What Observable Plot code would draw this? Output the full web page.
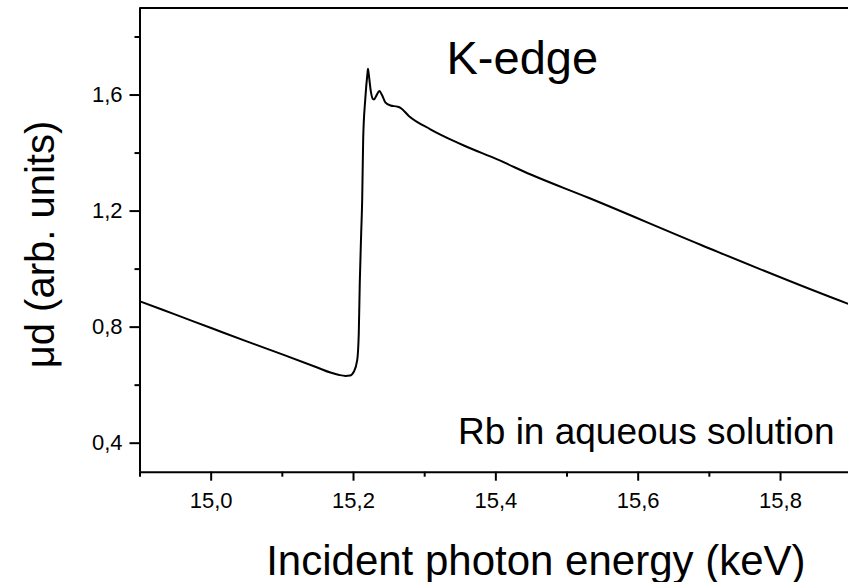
<!DOCTYPE html>
<html>
<head>
<meta charset="utf-8">
<script src="https://cdn.jsdelivr.net/npm/d3@7"></script>
<script src="https://cdn.jsdelivr.net/npm/@observablehq/plot@0.6"></script>
<style>
  html, body { margin: 0; padding: 0; background: #fff; }
</style>
</head>
<body>
<div id="chart"></div>
<script>
// Energy (keV) and absorption μd (arb. units)
const energy = [
  14.9, 14.95, 15.0, 15.05, 15.1, 15.15, 15.1676, 15.18, 15.1887, 15.195,
  15.2004, 15.2052, 15.2074, 15.2088, 15.2108, 15.2122, 15.2136, 15.2165,
  15.2198, 15.2203, 15.2215, 15.2245, 15.2275, 15.229, 15.2315, 15.2365,
  15.240, 15.245, 15.252, 15.2614, 15.266, 15.2777, 15.308, 15.346, 15.355,
  15.402, 15.449, 15.531, 15.6876, 15.8956, 15.9
];
const mu = [
  0.889, 0.843, 0.797, 0.751, 0.706, 0.660, 0.6435, 0.635, 0.632, 0.633,
  0.646, 0.686, 0.779, 0.952, 1.125, 1.239, 1.449, 1.585,
  1.680, 1.691, 1.670, 1.610, 1.586, 1.585, 1.595, 1.614,
  1.600, 1.574, 1.564, 1.560, 1.556, 1.528, 1.482, 1.436, 1.426,
  1.378, 1.326, 1.245, 1.084, 0.880, 0.876
];
const xMajorTicks = [15.0, 15.2, 15.4, 15.6, 15.8];
const xMinorTicks = [14.9, 15.1, 15.3, 15.5, 15.7];
const yMajorTicks = [0.4, 0.8, 1.2, 1.6];
const yMinorTicks = [0.6, 1.0, 1.4, 1.8];
const xDomain = [14.9, 15.9];
const yDomain = [0.3, 1.9];
const xLabel = "Incident photon energy (keV)";
const yLabel = "μd (arb. units)";
const edgeLabel = "K-edge";
const sampleLabel = "Rb in aqueous solution";

const data = energy.map((e, i) => ({energy: e, mu: mu[i]}));
const fmt = d => d.toFixed(1).replace(".", ",");
const font = "'Liberation Sans', Arial, Helvetica, sans-serif";

const chart = Plot.plot({
  width: 848,
  height: 582,
  marginLeft: 139.5,
  marginRight: -3.2,
  marginTop: 7.5,
  marginBottom: 110.3,
  style: {fontFamily: font, background: "white", color: "black"},
  x: {domain: xDomain},
  y: {domain: yDomain},
  marks: [
    Plot.ruleY([yDomain[1]], {stroke: "black", strokeWidth: 2}),
    Plot.ruleY([yDomain[0]], {stroke: "black", strokeWidth: 2}),
    Plot.ruleX([xDomain[0]], {stroke: "black", strokeWidth: 2}),
    Plot.axisX(xMajorTicks, {tickSize: 9, tickPadding: 10.7, tickFormat: fmt, fontSize: 22, strokeWidth: 2, label: null}),
    Plot.axisX(xMinorTicks, {tickSize: 5, tickFormat: () => "", strokeWidth: 2, label: null}),
    Plot.axisY(yMajorTicks, {tickSize: 10, tickPadding: 7.5, tickFormat: fmt, fontSize: 22, strokeWidth: 2, label: null}),
    Plot.axisY(yMinorTicks, {tickSize: 5, tickFormat: () => "", strokeWidth: 2, label: null}),
    Plot.line(data, {x: "energy", y: "mu", stroke: "black", strokeWidth: 2, curve: "monotone-x"}),
    Plot.text([edgeLabel], {frameAnchor: "top-left", text: d => d, textAnchor: "start", lineAnchor: "bottom", dx: 306.5, dy: 65.5, fontSize: 47, fill: "black"}),
    Plot.text([sampleLabel], {frameAnchor: "bottom-right", text: d => d, textAnchor: "end", lineAnchor: "bottom", dx: -17.2, dy: -28.7, fontSize: 37, fill: "black"}),
    Plot.text([xLabel], {frameAnchor: "bottom", text: d => d, textAnchor: "middle", lineAnchor: "bottom", dx: 40, dy: 102.3, fontSize: 42, fill: "black"}),
    Plot.text([yLabel], {frameAnchor: "left", text: d => d, textAnchor: "middle", lineAnchor: "bottom", rotate: -90, dx: -86.5, dy: 4.4, fontSize: 40, fill: "black"})
  ]
});
document.getElementById("chart").appendChild(chart);
</script>
</body>
</html>
